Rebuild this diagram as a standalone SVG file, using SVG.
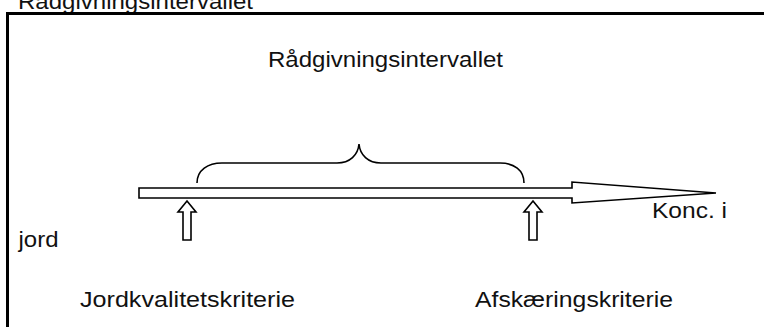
<svg xmlns="http://www.w3.org/2000/svg" width="764" height="327" viewBox="0 0 764 327">
<style>
text{font-family:"Liberation Sans",Arial,sans-serif;font-size:22px;fill:#111}
.ln{fill:#fff;stroke:#000;stroke-width:1.6;stroke-linejoin:miter}
.br{fill:none;stroke:#000;stroke-width:1.6}
</style>
<rect width="764" height="327" fill="#fff"/>
<text x="18" y="9" textLength="235" lengthAdjust="spacingAndGlyphs">Rådgivningsintervallet</text>
<rect x="7.5" y="13.5" width="800" height="400" fill="none" stroke="#000" stroke-width="3"/>
<g id="title"><text x="268" y="67" textLength="235" lengthAdjust="spacingAndGlyphs">Rådgivningsintervallet</text></g>
<g id="connectors">
<polygon class="ln" points="139,188 572,188 572,182 716,193 572,203 572,198 139,198"/>
<path class="br" d="M197,183 C197,170 208,163 222,163 L337,163 C350,163 358,155 359,144 C360,155 368,163 381,163 L500,163 C514,163 524,170 524,183"/>
</g>
<g id="arrow-left"><polygon class="ln" points="187,201 196,212 191,212 191,240 183,240 183,212 178,212"/></g>
<g id="arrow-right"><polygon class="ln" points="533,201 542,212 537,212 537,240 529,240 529,212 524,212"/></g>
<g id="axis-label">
<text x="652" y="218" textLength="75" lengthAdjust="spacingAndGlyphs">Konc. i</text>
<text x="18.5" y="247" textLength="40" lengthAdjust="spacingAndGlyphs">jord</text>
</g>
<g id="label-left"><text x="80" y="307" textLength="215" lengthAdjust="spacingAndGlyphs">Jordkvalitetskriterie</text></g>
<g id="label-right"><text x="475" y="307" textLength="198" lengthAdjust="spacingAndGlyphs">Afskæringskriterie</text></g>
</svg>
